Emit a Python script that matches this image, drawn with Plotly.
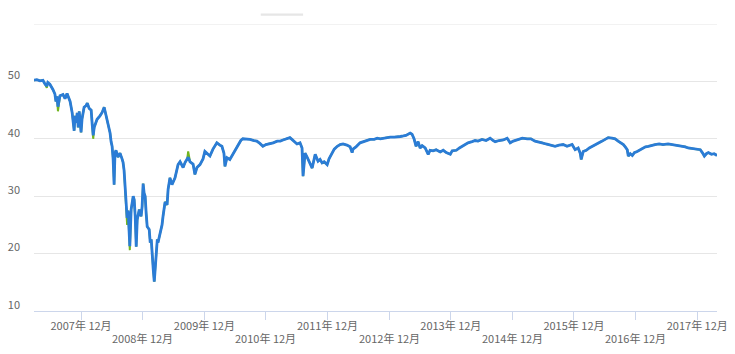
import plotly.graph_objects as go

dates = [
"2007-02-25","2007-03-14","2007-04-01","2007-04-19","2007-04-30","2007-05-12","2007-05-18","2007-05-30",
"2007-06-17","2007-06-29","2007-07-05","2007-07-11","2007-07-17","2007-07-29","2007-08-16","2007-08-28",
"2007-09-09","2007-09-15","2007-09-27","2007-10-09","2007-10-15","2007-10-21","2007-10-26","2007-11-02",
"2007-11-08","2007-11-14","2007-11-20","2007-11-26","2007-12-01","2007-12-07","2007-12-19","2007-12-31",
"2008-01-07","2008-01-18","2008-01-30","2008-02-05","2008-02-11","2008-02-17","2008-03-05","2008-03-22",
"2008-04-04","2008-04-16","2008-04-28","2008-05-09","2008-05-21","2008-05-27","2008-06-02","2008-06-08",
"2008-06-14","2008-06-19","2008-06-25","2008-07-07","2008-07-19","2008-07-31","2008-08-06","2008-08-12",
"2008-08-18","2008-08-24","2008-08-30","2008-09-05","2008-09-11","2008-09-15","2008-09-23","2008-10-05",
"2008-10-11","2008-10-17","2008-10-23","2008-10-29","2008-11-10","2008-11-21","2008-11-27","2008-12-03",
"2008-12-09","2008-12-15","2008-12-21","2008-12-27","2009-01-08","2009-01-14","2009-01-20","2009-01-26",
"2009-02-01","2009-02-07","2009-02-13","2009-02-19","2009-02-25","2009-03-01","2009-03-13","2009-03-25",
"2009-03-31","2009-04-12","2009-04-24","2009-04-30","2009-05-11","2009-05-23","2009-06-10","2009-06-28",
"2009-07-10","2009-07-28","2009-08-09","2009-08-21","2009-08-27","2009-09-07","2009-09-25","2009-10-06",
"2009-10-18","2009-11-05","2009-11-23","2009-12-04","2009-12-22","2010-01-03","2010-01-21","2010-02-13",
"2010-03-03","2010-03-15","2010-03-27","2010-04-02","2010-04-14","2010-05-01","2010-05-19","2010-06-06",
"2010-06-18","2010-07-05","2010-07-17","2010-08-10","2010-08-28","2010-09-21","2010-10-08","2010-10-26",
"2010-11-13","2010-12-01","2010-12-26","2011-01-13","2011-02-06","2011-02-24","2011-03-12","2011-04-05",
"2011-04-22","2011-05-04","2011-05-16","2011-06-03","2011-06-21","2011-07-03","2011-07-09","2011-07-15",
"2011-07-21","2011-08-02","2011-08-08","2011-08-20","2011-09-01","2011-09-13","2011-09-19","2011-09-30",
"2011-10-06","2011-10-18","2011-10-30","2011-11-11","2011-11-29","2011-12-10","2011-12-28","2012-01-10",
"2012-01-28","2012-02-14","2012-03-02","2012-03-25","2012-04-13","2012-04-25","2012-04-30","2012-05-18",
"2012-06-11","2012-07-11","2012-08-10","2012-09-03","2012-09-21","2012-10-09","2012-11-01","2012-11-19",
"2012-12-07","2012-12-31","2013-01-18","2013-02-05","2013-02-23","2013-03-10","2013-04-04","2013-04-15",
"2013-04-27","2013-05-09","2013-05-21","2013-06-02","2013-06-14","2013-07-02","2013-07-20","2013-07-31",
"2013-08-18","2013-09-05","2013-09-29","2013-10-17","2013-11-04","2013-11-28","2013-12-09","2014-01-03",
"2014-01-21","2014-02-07","2014-02-25","2014-03-13","2014-04-06","2014-04-24","2014-05-11","2014-06-04",
"2014-06-28","2014-07-22","2014-08-09","2014-08-21","2014-09-14","2014-10-08","2014-10-31","2014-11-18",
"2014-12-06","2014-12-29","2015-01-29","2015-02-27","2015-03-21","2015-04-14","2015-05-02","2015-05-26",
"2015-06-18","2015-07-06","2015-07-24","2015-08-11","2015-09-04","2015-09-28","2015-10-21","2015-11-08",
"2015-11-20","2015-12-08","2015-12-26","2016-01-07","2016-01-13","2016-01-25","2016-02-12","2016-03-01",
"2016-03-18","2016-04-05","2016-04-23","2016-05-16","2016-06-03","2016-06-21","2016-07-14","2016-08-01",
"2016-08-19","2016-09-07","2016-09-19","2016-09-30","2016-10-12","2016-10-18","2016-10-30","2016-11-11",
"2016-11-23","2016-12-10","2016-12-28","2017-01-10","2017-01-28","2017-02-14","2017-03-08","2017-03-26",
"2017-04-19","2017-05-12","2017-06-11","2017-07-05","2017-08-04","2017-09-03","2017-09-21","2017-10-08",
"2017-11-01","2017-11-25","2017-12-19","2017-12-31","2018-01-12","2018-01-24","2018-02-05","2018-02-23",
"2018-03-11","2018-03-28",
]

close = [
50.2,50.3,50.1,50.2,49.6,49.2,49.8,49.5,
48.6,47.8,46.5,47.4,45.6,47.5,47.7,47.0,
47.9,47.3,46.5,44.6,42.5,41.4,44.0,42.8,
44.5,42.0,44.8,42.5,41.1,43.5,45.5,45.8,
46.2,45.3,45.0,42.5,40.6,42.0,43.4,44.0,
44.6,45.5,44.0,42.5,41.0,39.5,38.7,36.5,
32.0,37.5,38.0,36.8,37.5,36.5,35.9,34.5,
31.2,28.9,26.2,27.5,24.5,21.3,27.7,30.0,
29.4,26.5,21.2,25.9,27.7,26.5,28.2,32.2,
30.5,30.0,27.0,24.7,24.2,21.9,22.5,18.9,
17.2,15.1,17.8,20.7,22.5,21.9,23.6,25.0,
26.5,29.0,28.5,31.2,33.2,32.0,33.2,35.5,
36.0,35.0,35.9,36.4,36.8,36.0,35.6,33.8,
35.0,35.5,36.5,37.8,37.3,37.0,38.2,39.3,
38.9,38.7,37.5,35.2,36.7,36.4,37.3,38.3,
39.0,39.7,40.0,40.0,39.9,39.7,39.6,39.2,
38.7,39.0,39.1,39.3,39.6,39.6,39.8,40.0,
40.2,39.9,39.6,39.1,39.3,38.4,33.5,36.0,
37.5,36.8,36.4,35.8,34.9,36.5,37.3,36.5,
36.1,36.4,35.8,36.0,35.5,36.5,37.6,38.2,
38.7,39.0,39.1,38.9,38.6,37.6,38.2,38.6,
39.3,39.6,39.9,39.9,40.1,40.0,40.1,40.3,
40.3,40.3,40.3,40.4,40.5,40.6,41.0,40.8,
40.0,38.7,39.5,38.4,38.8,38.4,37.3,38.0,
37.9,38.1,37.7,38.0,37.6,37.3,37.9,38.0,
38.4,38.7,39.0,39.3,39.5,39.7,39.6,39.9,
39.7,40.1,39.7,39.5,39.7,39.8,40.1,39.3,
39.6,39.8,40.1,40.0,40.0,39.6,39.5,39.3,
39.1,39.0,38.9,38.7,38.9,39.0,38.7,38.9,
39.0,38.1,38.4,37.5,36.4,37.8,38.0,38.4,
38.7,39.0,39.3,39.6,39.9,40.2,40.1,40.0,
39.6,39.3,39.0,38.6,38.1,37.0,37.4,37.1,
37.6,37.8,38.1,38.4,38.6,38.7,38.9,39.0,
39.1,39.0,39.1,39.0,38.8,38.7,38.6,38.4,
38.3,38.2,38.1,37.6,37.0,37.4,37.6,37.3,
37.4,37.1,
]

# dates where the lower (green) series dips below the blue line
low_dates = ["2007-05-12","2007-07-17","2008-02-11","2008-08-30","2008-09-15","2009-08-27"]
low_values = [48.9, 44.8, 40.0, 25.0, 20.6, 37.8]

tick_vals = ["2007-12-01","2008-12-01","2009-12-01","2010-12-01","2011-12-01","2012-12-01",
             "2013-12-01","2014-12-01","2015-12-01","2016-12-01","2017-12-01"]
tick_years = ["2007","2008","2009","2010","2011","2012","2013","2014","2015","2016","2017"]

low_map = dict(zip(low_dates, low_values))
low = [low_map.get(d, v) for d, v in zip(dates, close)]

labels = [y + "年 12月" for y in tick_years]
upper_text = [t if i % 2 == 0 else "" for i, t in enumerate(labels)]

fig = go.Figure()
fig.add_trace(go.Scatter(x=dates, y=low, mode="lines",
                         line=dict(color="#72b51f", width=2), hoverinfo="skip"))
fig.add_trace(go.Scatter(x=dates, y=close, mode="lines",
                         line=dict(color="#2b7cd6", width=2.8)))

# second (staggered) row of x labels
for i, (tv, t) in enumerate(zip(tick_vals, labels)):
    if i % 2 == 1:
        fig.add_annotation(x=tv, xref="x", y=0, yref="paper", text=t,
                           showarrow=False, yanchor="middle", xanchor="center",
                           yshift=-27, font=dict(size=11, color="#666666"))

fig.update_layout(
    width=735, height=354,
    margin=dict(l=34, r=18, t=24, b=43),
    paper_bgcolor="white", plot_bgcolor="white",
    showlegend=False,
    font=dict(family="Noto Sans CJK JP, sans-serif", size=11, color="#666666"),
    xaxis=dict(
        type="date",
        range=[dates[0], dates[-1]],
        tickvals=tick_vals, ticktext=upper_text,
        ticks="outside", ticklen=8, tickcolor="#ccd6eb",
        showgrid=False, showline=True, linecolor="#ccd6eb", linewidth=1,
        zeroline=False, tickangle=0, automargin=False,
        ticklabelstandoff=-3,
    ),
    yaxis=dict(
        range=[10, 60],
        tickvals=[10, 20, 30, 40, 50],
        ticktext=["10", "20", "30", "40", "50"],
        showgrid=True, gridcolor="#e6e6e6", gridwidth=1,
        zeroline=False, showline=False, automargin=False,
        ticklabelstandoff=13, ticklabelshift=-6,
    ),
    shapes=[
        dict(type="rect", xref="paper", yref="paper",
             x0=0.332, x1=0.394, y0=1.029, y1=1.037,
             fillcolor="#e6e6e6", line=dict(width=0), layer="below"),
        dict(type="line", xref="paper", yref="y",
             x0=0, x1=1, y0=60, y1=60,
             line=dict(color="#e6e6e6", width=1), layer="below"),
    ],
)

fig.write_html("out.html")
